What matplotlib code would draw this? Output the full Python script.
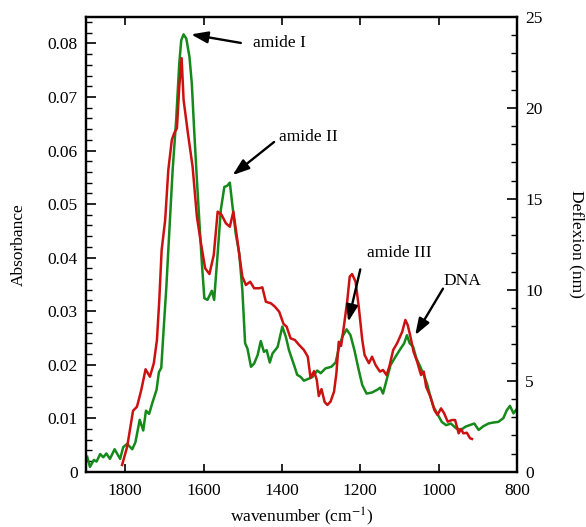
import numpy as np
import matplotlib
matplotlib.use("Agg")
import matplotlib.pyplot as plt
from matplotlib.ticker import MultipleLocator

plt.rcParams['font.family'] = ['Liberation Serif', 'DejaVu Serif']
plt.rcParams['mathtext.fontset'] = 'stix'

# FTIR absorbance (green, left axis)
ftir_wn = [1897, 1890, 1880, 1873, 1864, 1856, 1848, 1839, 1827, 1813, 1805, 1795,
           1782, 1774, 1763, 1754, 1747, 1739, 1731, 1720, 1714, 1708, 1702, 1695,
           1690, 1679, 1670, 1662, 1657, 1651, 1644, 1636, 1630, 1624, 1617, 1610,
           1604, 1598, 1590, 1579, 1573, 1564, 1556, 1547, 1540, 1533, 1526, 1518,
           1509, 1501, 1494, 1488, 1479, 1471, 1462, 1454, 1446, 1439, 1431, 1424,
           1411, 1399, 1390, 1382, 1369, 1361, 1352, 1344, 1331, 1322, 1310, 1301,
           1289, 1274, 1263, 1255, 1246, 1235, 1225, 1215, 1204, 1195, 1184, 1170,
           1157, 1149, 1142, 1133, 1123, 1110, 1098, 1088, 1081, 1074, 1065, 1057,
           1047, 1038, 1030, 1021, 1013, 1004, 992, 981, 969, 955, 943, 932,
           921, 909, 898, 886, 873, 860, 848, 835, 826, 818, 809, 801]
ftir_abs = [0.0028, 0.0009, 0.0022, 0.0019, 0.0033, 0.0027, 0.0034, 0.0024, 0.0042, 0.0024, 0.0046, 0.0052,
            0.0042, 0.0055, 0.0097, 0.0077, 0.0114, 0.0108, 0.0128, 0.0153, 0.0186, 0.0194, 0.0265, 0.0345,
            0.0414, 0.0563, 0.0657, 0.0763, 0.0806, 0.0817, 0.0809, 0.0775, 0.0725, 0.0638, 0.0545, 0.0458,
            0.0386, 0.0324, 0.0321, 0.0338, 0.0321, 0.0408, 0.0489, 0.0532, 0.0534, 0.0540, 0.0495, 0.0445,
            0.0408, 0.0339, 0.0240, 0.0230, 0.0196, 0.0202, 0.0218, 0.0244, 0.0224, 0.0227, 0.0204, 0.0221,
            0.0233, 0.0271, 0.0252, 0.0227, 0.0199, 0.0181, 0.0177, 0.0170, 0.0174, 0.0177, 0.0189, 0.0184,
            0.0193, 0.0196, 0.0204, 0.0230, 0.0252, 0.0266, 0.0255, 0.0227, 0.0190, 0.0162, 0.0146, 0.0148,
            0.0153, 0.0157, 0.0146, 0.0171, 0.0199, 0.0215, 0.0229, 0.0240, 0.0255, 0.0240, 0.0233, 0.0212,
            0.0196, 0.0181, 0.0165, 0.0140, 0.0121, 0.0109, 0.0093, 0.0087, 0.0090, 0.0081, 0.0078, 0.0084,
            0.0087, 0.0090, 0.0078, 0.0085, 0.0090, 0.0092, 0.0093, 0.0100, 0.0115, 0.0123, 0.0109, 0.0117]

# AFM-IR deflexion (red, right axis)
afm_wn = [1808, 1795, 1780, 1770, 1759, 1748, 1737, 1727, 1719, 1713, 1707, 1698,
          1690, 1681, 1675, 1668, 1662, 1656, 1651, 1640, 1628, 1617, 1608, 1596,
          1585, 1574, 1564, 1554, 1543, 1533, 1524, 1515, 1507, 1501, 1492, 1481,
          1471, 1458, 1450, 1441, 1428, 1418, 1407, 1396, 1388, 1378, 1367, 1356,
          1344, 1334, 1327, 1318, 1311, 1306, 1299, 1291, 1284, 1276, 1267, 1261,
          1255, 1249, 1242, 1233, 1227, 1221, 1212, 1204, 1195, 1189, 1178, 1170,
          1161, 1150, 1142, 1133, 1126, 1116, 1106, 1093, 1085, 1079, 1072, 1064,
          1055, 1045, 1038, 1032, 1021, 1011, 1003, 994, 986, 977, 966, 958,
          949, 943, 937, 928, 920, 915]
afm_defl = [0.37, 1.37, 3.35, 3.57, 4.49, 5.63, 5.22, 5.96, 7.24, 9.44, 12.18, 13.83,
            16.58, 18.23, 18.60, 18.87, 21.16, 22.72, 20.43, 18.60, 16.76, 14.01, 12.73, 11.18,
            10.86, 11.91, 14.29, 14.11, 13.65, 13.46, 14.29, 12.91, 11.63, 10.72, 10.26, 10.44,
            10.08, 10.08, 10.13, 9.34, 9.25, 9.07, 8.79, 8.12, 7.97, 7.33, 7.24, 6.96,
            6.69, 6.32, 5.15, 5.53, 5.04, 4.16, 4.54, 3.83, 3.67, 3.85, 4.40, 5.41,
            7.14, 6.91, 7.97, 9.44, 10.72, 10.86, 10.44, 9.07, 7.24, 6.41, 5.96, 6.32,
            5.86, 5.50, 5.59, 5.31, 5.77, 6.69, 7.06, 7.69, 8.34, 8.06, 7.42, 6.59,
            6.05, 5.31, 5.50, 4.67, 4.12, 3.39, 3.12, 3.48, 3.21, 2.75, 2.84, 2.84,
            2.11, 2.35, 2.11, 2.14, 1.84, 1.80]

fig = plt.figure(figsize=(5.86, 5.27), dpi=100)
ax = fig.add_axes([0.1468, 0.1049, 0.7355, 0.8634])
ax2 = ax.twinx()

ax.plot(ftir_wn, ftir_abs, color='#15891a', lw=1.8)
ax2.plot(afm_wn, afm_defl, color='#cc1111', lw=1.8)

ax.set_xlim(1900, 800)
ax.set_ylim(0, 0.085)
ax2.set_ylim(0, 25)

ax.xaxis.set_major_locator(MultipleLocator(200))
ax.yaxis.set_major_locator(MultipleLocator(0.01))
ax.yaxis.set_minor_locator(MultipleLocator(0.002))
ax2.yaxis.set_major_locator(MultipleLocator(5))
ax2.yaxis.set_minor_locator(MultipleLocator(1))

ax.set_yticks(np.arange(0, 0.081, 0.01))
ax.set_yticklabels(['0'] + ['%.2f' % v for v in np.arange(0.01, 0.081, 0.01)])

ax.tick_params(axis='x', which='major', direction='in', length=6, width=1.2,
               top=True, labelsize=12.5, pad=8)
ax.tick_params(axis='y', which='major', direction='in', length=7, width=1.2, labelsize=12.5, pad=6)
ax.tick_params(axis='y', which='minor', direction='in', length=4, width=1.0)
ax2.tick_params(axis='y', which='major', direction='in', length=7, width=1.2, labelsize=12.5, pad=6)
ax2.tick_params(axis='y', which='minor', direction='in', length=4, width=1.0)

for a in (ax, ax2):
    for s in a.spines.values():
        s.set_linewidth(1.6)

ax.set_xlabel('wavenumber (cm$^{-1}$)', fontsize=12.5, labelpad=5)
ax.set_ylabel('Absorbance', fontsize=12.5, labelpad=15)
ax2.set_ylabel('Deflexion (nm)', fontsize=12.5, rotation=270, labelpad=30)

arrow = dict(arrowstyle='-|>,head_length=1.0,head_width=0.35', color='black', lw=1.7,
             shrinkA=0, shrinkB=0)
notes = [('amide I', (1632, 0.0817), (1505, 0.0801), (1475, 0.0800)),
         ('amide II', (1526, 0.0554), (1420, 0.0616), (1407, 0.0626)),
         ('amide III', (1231, 0.0280), (1200, 0.0378), (1184, 0.0408)),
         ('DNA', (1060, 0.0255), (989, 0.0342), (988, 0.0357))]
for label, tip, tail, txt in notes:
    ax2.annotate('', xy=tip, xytext=tail, xycoords=ax.transData, textcoords=ax.transData,
                 arrowprops=arrow)
    ax.text(txt[0], txt[1], label, fontsize=12.5, ha='left', va='center')

fig.savefig('out.png', dpi=100)
